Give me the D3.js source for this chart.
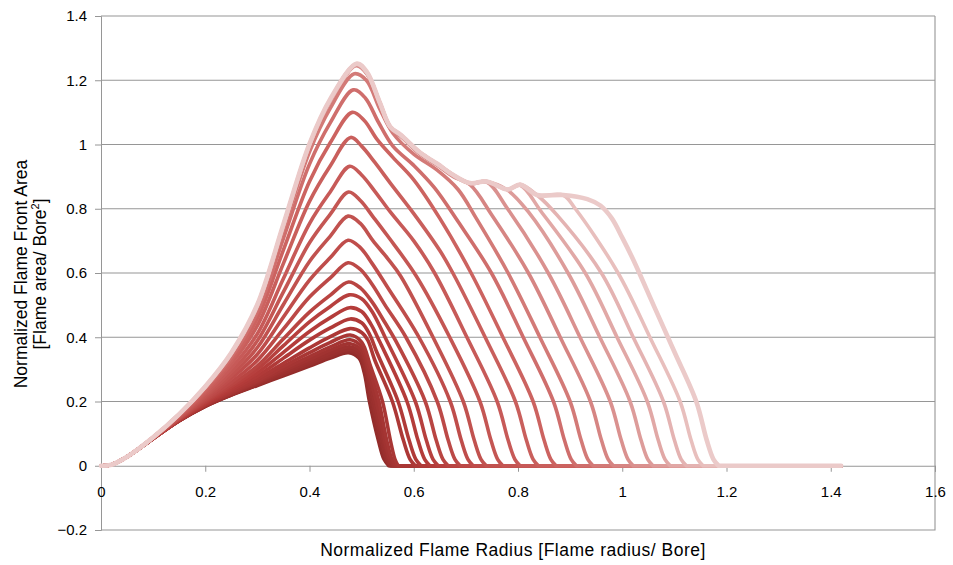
<!DOCTYPE html>
<html><head><meta charset="utf-8">
<script src="https://cdn.jsdelivr.net/npm/d3@7"></script>
<style>
body{margin:0;background:#fff}
text{font-family:"Liberation Sans",Arial,sans-serif;fill:#000}
</style>
</head><body>
<svg id="chart" width="953" height="565"></svg>
<script>
// ---------- data ----------
const xTicks = [0, 0.2, 0.4, 0.6, 0.8, 1, 1.2, 1.4, 1.6];
const yTicks = [-0.2, 0, 0.2, 0.4, 0.6, 0.8, 1, 1.2, 1.4];
const xTitle = "Normalized Flame Radius [Flame radius/ Bore]";
const yTitle1 = "Normalized Flame Front Area";
const yTitle2 = "[Flame area/ Bore";
const zeroLineEnd = 1.42;

// shared x positions of the rising part of every curve
const xRise = [0, 0.02, 0.05, 0.1, 0.15, 0.2, 0.25, 0.3, 0.35, 0.4, 0.44];

// rising values, darkest curve first
const riseValues = [
  [0,.003,.028,.085,.140,.185,.220,.250,.280,.310,.335],
  [0,.003,.028,.085,.140,.185,.221,.252,.283,.314,.340],
  [0,.003,.028,.085,.140,.186,.221,.253,.285,.318,.344],
  [0,.003,.028,.085,.140,.186,.223,.255,.289,.324,.351],
  [0,.003,.028,.085,.141,.187,.224,.258,.295,.331,.360],
  [0,.003,.028,.085,.141,.188,.226,.261,.301,.340,.370],
  [0,.003,.028,.085,.141,.189,.228,.265,.309,.352,.384],
  [0,.003,.028,.085,.142,.190,.231,.271,.319,.367,.402],
  [0,.003,.028,.085,.142,.192,.235,.279,.335,.391,.429],
  [0,.003,.028,.086,.143,.194,.240,.289,.353,.418,.461],
  [0,.003,.028,.086,.144,.197,.246,.300,.374,.448,.496],
  [0,.003,.028,.086,.145,.200,.252,.311,.395,.478,.531],
  [0,.003,.028,.086,.146,.204,.260,.328,.426,.525,.585],
  [0,.003,.028,.086,.148,.208,.271,.347,.463,.578,.648],
  [0,.003,.028,.087,.149,.213,.281,.368,.502,.636,.715],
  [0,.003,.028,.087,.151,.218,.292,.389,.541,.694,.783],
  [0,.003,.028,.087,.153,.224,.304,.411,.583,.754,.853],
  [0,.003,.028,.087,.155,.230,.317,.436,.630,.823,.934],
  [0,.003,.028,.088,.157,.235,.328,.458,.672,.885,1.006],
  [0,.003,.028,.088,.158,.240,.338,.478,.708,.939,1.068],
  [0,.003,.028,.088,.159,.243,.346,.492,.735,.977,1.113],
  [0,.003,.028,.088,.160,.244,.348,.497,.745,.995,1.135],
  [0,.003,.028,.088,.160,.245,.349,.498,.747,.997,1.137],
  [0,.003,.028,.088,.160,.245,.350,.499,.748,.998,1.138],
  [0,.003,.028,.088,.160,.245,.350,.500,.749,.999,1.139],
  [0,.003,.028,.088,.160,.245,.350,.500,.750,1.000,1.140],
  [0,.003,.028,.088,.160,.246,.351,.501,.751,1.001,1.141],
  [0,.003,.028,.089,.161,.247,.352,.502,.752,1.002,1.142]
];

// peak and falling part [x, y], darkest curve first
const fallPoints = [
  [[.475,.352],[.495,.335],[.505,.29],[.515,.2],[.532,.08],[.543,.02],[.552,0]],
  [[.476,.357],[.496,.34],[.507,.29],[.518,.2],[.535,.08],[.546,.02],[.554,0]],
  [[.477,.362],[.497,.345],[.509,.29],[.521,.2],[.538,.08],[.548,.02],[.556,0]],
  [[.477,.37],[.498,.352],[.511,.29],[.524,.2],[.541,.08],[.551,.02],[.558,0]],
  [[.478,.38],[.499,.36],[.513,.29],[.528,.2],[.544,.08],[.554,.02],[.561,0]],
  [[.478,.392],[.50,.37],[.515,.3],[.533,.2],[.548,.08],[.558,.02],[.565,0]],
  [[.478,.407],[.50,.385],[.517,.31],[.54,.2],[.555,.08],[.564,.02],[.57,0]],
  [[.478,.427],[.50,.415],[.512,.39],[.525,.33],[.559,.2],[.58,.08],[.593,.02],[.603,0]],
  [[.478,.457],[.50,.445],[.515,.41],[.53,.35],[.57,.2],[.591,.08],[.604,.02],[.614,0]],
  [[.477,.492],[.50,.48],[.518,.44],[.535,.385],[.587,.2],[.608,.08],[.621,.02],[.631,0]],
  [[.476,.532],[.50,.52],[.52,.48],[.545,.40],[.603,.2],[.624,.08],[.637,.02],[.647,0]],
  [[.475,.572],[.498,.553],[.52,.51],[.545,.445],[.565,.39],[.622,.2],[.643,.08],[.656,.02],[.666,0]],
  [[.474,.632],[.497,.612],[.52,.565],[.545,.50],[.585,.4],[.645,.2],[.666,.08],[.679,.02],[.689,0]],
  [[.474,.702],[.497,.68],[.52,.63],[.55,.555],[.61,.4],[.67,.2],[.691,.08],[.704,.02],[.714,0]],
  [[.474,.777],[.497,.755],[.522,.70],[.55,.645],[.575,.59],[.637,.4],[.695,.2],[.716,.08],[.729,.02],[.739,0]],
  [[.475,.852],[.498,.825],[.522,.775],[.55,.715],[.605,.59],[.669,.4],[.727,.2],[.748,.08],[.761,.02],[.771,0]],
  [[.477,.932],[.50,.905],[.525,.855],[.555,.79],[.60,.70],[.64,.6],[.702,.4],[.76,.2],[.781,.08],[.794,.02],[.804,0]],
  [[.479,1.022],[.50,.995],[.525,.945],[.555,.88],[.60,.785],[.65,.67],[.675,.6],[.737,.4],[.795,.2],[.816,.08],[.829,.02],[.839,0]],
  [[.482,1.10],[.505,1.075],[.53,1.015],[.56,.96],[.60,.89],[.65,.77],[.71,.6],[.771,.4],[.829,.2],[.85,.08],[.863,.02],[.873,0]],
  [[.484,1.17],[.507,1.145],[.532,1.07],[.56,.995],[.60,.935],[.64,.865],[.685,.76],[.749,.6],[.81,.4],[.868,.2],[.889,.08],[.902,.02],[.912,0]],
  [[.486,1.22],[.509,1.2],[.535,1.11],[.56,1.035],[.60,.97],[.645,.92],[.685,.86],[.72,.77],[.781,.6],[.842,.4],[.90,.2],[.921,.08],[.934,.02],[.944,0]],
  [[.489,1.245],[.51,1.22],[.535,1.125],[.555,1.05],[.575,1.025],[.612,.97],[.645,.935],[.676,.9],[.708,.875],[.75,.78],[.82,.6],[.881,.4],[.939,.2],[.96,.08],[.973,.02],[.983,0]],
  [[.49,1.248],[.51,1.222],[.535,1.128],[.555,1.053],[.575,1.028],[.612,.973],[.645,.938],[.676,.903],[.708,.878],[.74,.883],[.78,.8],[.858,.6],[.919,.4],[.977,.2],[.998,.08],[1.011,.02],[1.021,0]],
  [[.49,1.249],[.51,1.223],[.535,1.129],[.555,1.054],[.575,1.029],[.612,.974],[.645,.939],[.676,.904],[.708,.879],[.74,.884],[.78,.858],[.82,.79],[.896,.6],[.957,.4],[1.015,.2],[1.036,.08],[1.049,.02],[1.059,0]],
  [[.49,1.25],[.51,1.224],[.535,1.13],[.555,1.055],[.575,1.03],[.612,.975],[.645,.94],[.676,.905],[.708,.88],[.74,.885],[.78,.86],[.804,.873],[.845,.79],[.929,.6],[.99,.4],[1.048,.2],[1.069,.08],[1.082,.02],[1.092,0]],
  [[.49,1.25],[.51,1.225],[.535,1.13],[.555,1.055],[.575,1.03],[.612,.975],[.645,.94],[.676,.905],[.708,.88],[.74,.885],[.78,.86],[.804,.875],[.837,.842],[.875,.78],[.96,.6],[1.021,.4],[1.079,.2],[1.1,.08],[1.113,.02],[1.123,0]],
  [[.49,1.251],[.51,1.225],[.535,1.13],[.555,1.055],[.575,1.03],[.612,.975],[.645,.94],[.676,.905],[.708,.88],[.74,.885],[.78,.86],[.804,.875],[.837,.843],[.887,.842],[.91,.8],[.992,.6],[1.053,.4],[1.111,.2],[1.132,.08],[1.145,.02],[1.155,0]],
  [[.491,1.252],[.51,1.226],[.535,1.13],[.555,1.055],[.575,1.03],[.612,.975],[.645,.94],[.676,.905],[.708,.88],[.74,.885],[.78,.86],[.804,.875],[.837,.843],[.887,.843],[.933,.83],[.958,.81],[.98,.77],[1.0,.71],[1.02,.645],[1.06,.5],[1.1,.355],[1.142,.2],[1.162,.08],[1.175,.02],[1.185,0]]
];

// ---------- layout ----------
const svg = d3.select("#chart");
const x = d3.scaleLinear().domain([0, 1.6]).range([101, 935]);
const y = d3.scaleLinear().domain([-0.2, 1.4]).range([530, 16]);
const gridColor = "#969696";
const fontFam = "'Liberation Sans', Arial, sans-serif";

// horizontal gridlines
svg.append("g").selectAll("line").data(yTicks.filter(v => v > -0.2 && v !== 0)).join("line")
  .attr("x1", x(0)).attr("x2", x(1.6))
  .attr("y1", d => y(d)).attr("y2", d => y(d))
  .attr("stroke", gridColor).attr("stroke-width", 1.1);

// plot frame (right and bottom)
svg.append("path")
  .attr("d", `M${x(0)},${y(-0.2)}H${x(1.6)}V${y(1.4)}`)
  .attr("fill", "none").attr("stroke", gridColor).attr("stroke-width", 1.1);

// y axis
const yAxis = d3.axisLeft(y).tickValues(yTicks).tickSize(6).tickPadding(8)
  .tickFormat(d => d3.format("")(+d.toFixed(1)));
const gy = svg.append("g").attr("transform", `translate(${x(0)},0)`).call(yAxis);
gy.select(".domain").attr("stroke", gridColor);
gy.selectAll(".tick line").attr("stroke", gridColor);
gy.selectAll(".tick text").attr("font-size", 15).attr("fill", "#000").attr("font-family", fontFam);

// x axis at y = 0
const xAxis = d3.axisBottom(x).tickValues(xTicks).tickSize(6).tickPadding(15)
  .tickFormat(d => d3.format("")(+d.toFixed(1)));
const gx = svg.append("g").attr("transform", `translate(0,${y(0)})`).call(xAxis);
gx.select(".domain").attr("stroke", gridColor);
gx.selectAll(".tick line").attr("stroke", gridColor);
gx.selectAll(".tick text").attr("font-size", 15).attr("fill", "#000").attr("font-family", fontFam);

// ---------- curves ----------
const n = riseValues.length;
const color = d3.piecewise(d3.interpolateRgb, ["#922c2a", "#b43c3a", "#cc6360", "#ebcac9"]);
const line = d3.line().x(d => x(d[0])).y(d => y(d[1])).curve(d3.curveCatmullRom.alpha(0.5));

const series = riseValues.map((vals, i) => xRise.map((xv, j) => [xv, vals[j]]).concat(fallPoints[i]));

svg.append("g").selectAll("path").data(series).join("path")
  .attr("d", d => line(d) + `L${x(zeroLineEnd)},${y(0)}`)
  .attr("fill", "none")
  .attr("stroke", (d, i) => color(i / (n - 1)))
  .attr("stroke-width", (d, i) => i === n - 1 ? 4.6 : 3.6)
  .attr("stroke-linejoin", "round")
  .attr("stroke-linecap", "round");

// ---------- titles ----------
svg.append("text").attr("x", 513).attr("y", 556).attr("text-anchor", "middle")
  .attr("font-size", 17.5).attr("letter-spacing", 0.5).attr("font-family", fontFam).text(xTitle);

svg.append("text").attr("transform", "translate(27,274) rotate(-90)")
  .attr("text-anchor", "middle").attr("font-size", 17.5).attr("font-family", fontFam)
  .text(yTitle1);
const yt2 = svg.append("text").attr("transform", "translate(46,274) rotate(-90)")
  .attr("text-anchor", "middle").attr("font-size", 17.5).attr("font-family", fontFam);
yt2.append("tspan").text(yTitle2);
yt2.append("tspan").attr("font-size", 11).attr("dy", -7).text("2");
yt2.append("tspan").attr("dy", 7).text("]");
</script>
</body></html>
